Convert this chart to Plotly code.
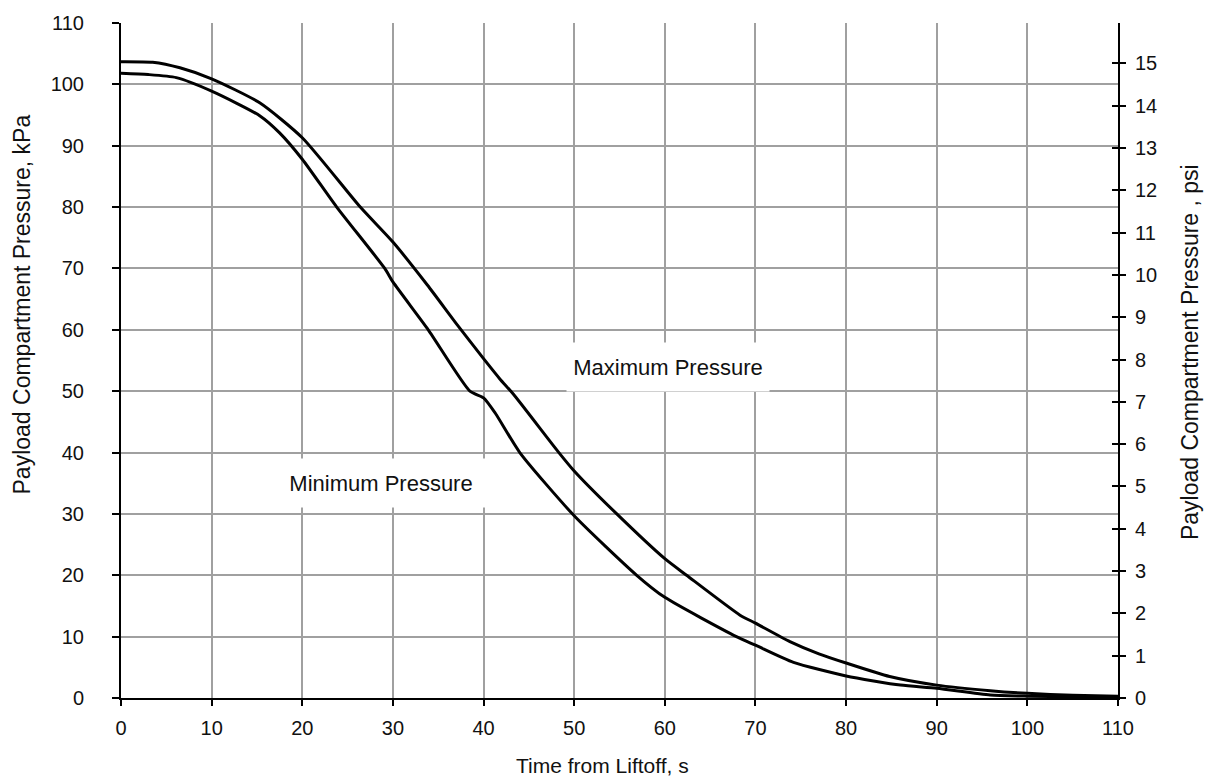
import plotly.graph_objects as go

# Payload compartment pressure envelope during ascent
t_max = [0, 3.5, 6.5, 10, 15.3, 20, 26.4, 30, 33.8, 37.1, 40, 41.8, 43.3,
         48.2, 50, 54.7, 60, 62.4, 68.3, 70, 73.8, 77, 80, 84.8, 90, 95.9, 100, 105, 110]
p_max = [103.7, 103.6, 102.7, 100.9, 97.0, 91.3, 80, 74.3, 67.3, 60.8, 55.3, 52.0, 49.5,
         40.2, 37.0, 30, 22.7, 20, 13.5, 12.2, 9.2, 7.2, 5.7, 3.5, 2.1, 1.2, 0.76, 0.45, 0.3]

t_min = [0, 3, 6.1, 10, 15.3, 17.5, 20, 23.8, 29.1, 30, 33.9, 38.5, 40, 41.3, 44, 50,
         56.9, 60, 67.9, 70, 74.2, 80, 86, 90, 95.9, 100, 105, 110]
p_min = [101.8, 101.6, 101.1, 98.9, 94.9, 92.1, 87.8, 80, 70, 67.8, 60, 50, 48.9, 46.4, 40, 29.7,
         20, 16.4, 10, 8.6, 5.8, 3.6, 2.1, 1.6, 0.5, 0.3, 0.2, 0.1]

KPA_PER_PSI = 6.894757
X_RANGE = [0, 110]
KPA_RANGE = [0, 110]
PSI_RANGE = [0, 110 / KPA_PER_PSI]

FONT = "Liberation Sans, Arial, sans-serif"
GRID = "#a0a0a0"
INK = "#111111"
TICK_FONT = dict(family=FONT, size=20, color=INK)
LABEL_FONT = dict(family=FONT, size=22, color=INK)
TITLE_FONT = dict(family=FONT, size=23, color=INK)

fig = go.Figure()
for t, p, name in [(t_max, p_max, "Maximum Pressure"), (t_min, p_min, "Minimum Pressure")]:
    fig.add_trace(go.Scatter(x=t, y=p, mode="lines", name=name, hoverinfo="x+y",
                             line=dict(color="black", width=3, shape="spline", smoothing=0.6)))
# carriers for the psi axis (outer and inner tick marks)
fig.add_trace(go.Scatter(x=[], y=[], yaxis="y2", showlegend=False, hoverinfo="skip"))
fig.add_trace(go.Scatter(x=[], y=[], yaxis="y3", showlegend=False, hoverinfo="skip"))

fig.update_layout(
    width=1214, height=776,
    margin=dict(l=121, r=96, t=20, b=78),
    paper_bgcolor="white", plot_bgcolor="white",
    showlegend=False,
    font=dict(family=FONT, size=20, color=INK),
    xaxis=dict(range=X_RANGE, dtick=10, tick0=0, showgrid=True, gridcolor=GRID, gridwidth=2,
               zeroline=False, showline=True, linecolor="black", linewidth=2,
               ticks="outside", ticklen=6, tickwidth=2, tickcolor="black",
               ticklabelstandoff=5, tickfont=TICK_FONT),
    yaxis=dict(range=KPA_RANGE, dtick=10, tick0=0, showgrid=True, gridcolor=GRID, gridwidth=2,
               zeroline=False, showline=True, linecolor="black", linewidth=2,
               ticks="outside", ticklen=7, tickwidth=2, tickcolor="black",
               ticklabelstandoff=24, tickfont=TICK_FONT),
    yaxis2=dict(range=PSI_RANGE, dtick=1, tick0=0, overlaying="y", side="right", anchor="x",
                showgrid=False, zeroline=False, showline=True, linecolor="black", linewidth=2,
                ticks="outside", ticklen=6, tickwidth=2, tickcolor="black",
                ticklabelstandoff=5, tickfont=TICK_FONT),
    yaxis3=dict(range=PSI_RANGE, dtick=1, tick0=0, overlaying="y", side="right", anchor="x",
                showgrid=False, zeroline=False, showline=False, showticklabels=False,
                ticks="inside", ticklen=6, tickwidth=2, tickcolor="black"),
)

# curve labels on white boxes
fig.add_annotation(x=28.7, y=35.0, text="Minimum Pressure", showarrow=False,
                   bgcolor="white", width=208, height=46, font=LABEL_FONT)
fig.add_annotation(x=60.35, y=54.0, text="Maximum Pressure", showarrow=False,
                   bgcolor="white", width=200, height=46, font=LABEL_FONT)

# axis titles
fig.add_annotation(xref="paper", yref="paper", x=0.483, y=-0.1003, text="Time from Liftoff, s",
                   showarrow=False, xanchor="center", yanchor="middle",
                   font=dict(family=FONT, size=21, color=INK))
fig.add_annotation(xref="paper", yref="paper", x=-0.0993, y=0.583,
                   text="Payload Compartment Pressure, kPa", textangle=-90,
                   showarrow=False, xanchor="center", yanchor="middle", font=TITLE_FONT)
fig.add_annotation(xref="paper", yref="paper", x=1.0716, y=0.513,
                   text="Payload Compartment Pressure , psi", textangle=-90,
                   showarrow=False, xanchor="center", yanchor="middle", font=TITLE_FONT)

fig.write_html("out.html")
